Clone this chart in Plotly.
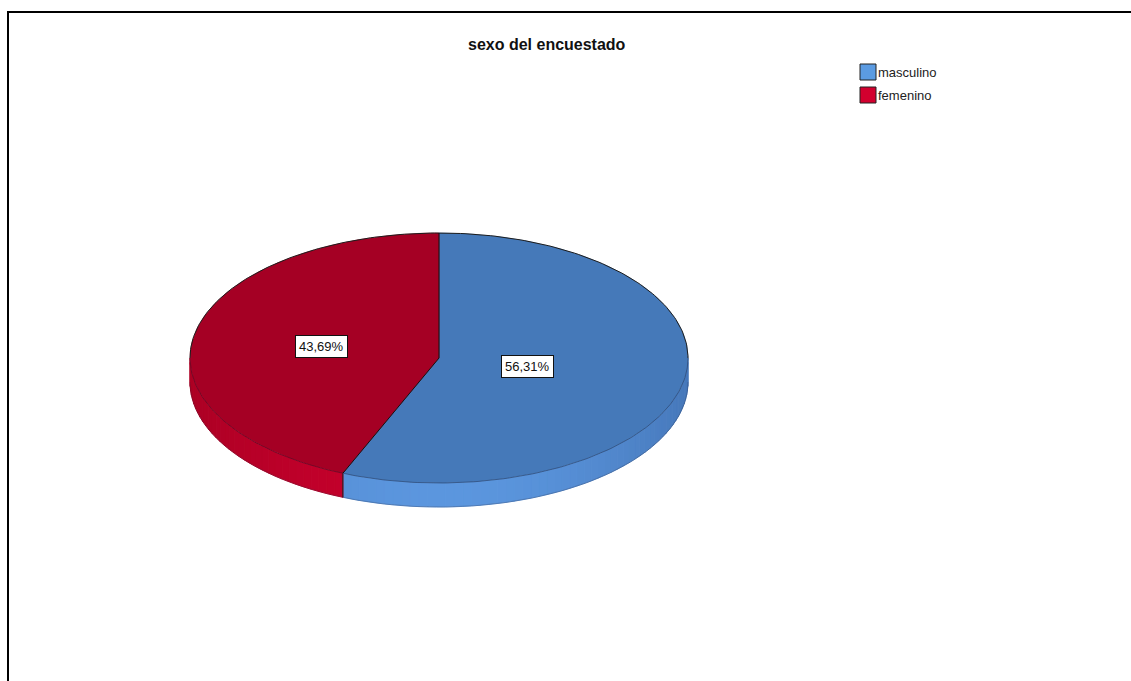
import math
import plotly.graph_objects as go

# Survey result: respondent sex
categories = ["masculino", "femenino"]
percentages = [56.31, 43.69]
value_labels = ["56,31%", "43,69%"]
title_text = "sexo del encuestado"

# Colours per category: top face, side face (front), side face (edge), legend swatch
top_colors = ["#4579b9", "#a50024"]
side_front = [(91, 150, 222), (198, 0, 44)]
side_edge = [(70, 120, 186), (172, 0, 36)]
legend_colors = ["#5b9be2", "#d2002e"]

# Canvas and pie geometry (pixel space, y grows downward)
W, H = 1131, 681
CX, CY = 439, 358
RX, RY = 249, 125
DEPTH = 24
LABEL_RADIUS = [0.363, 0.48]
FONT = "Liberation Sans, Arial, sans-serif"


def point(phi_deg, dz=0.0):
    a = math.radians(phi_deg)
    return CX + RX * math.sin(a), CY - RY * math.cos(a) + dz


def mix(c1, c2, t):
    return "rgb(%d,%d,%d)" % tuple(round(c1[i] + (c2[i] - c1[i]) * t) for i in range(3))


def arc_line(a0, a1, dz=0.0):
    n = max(4, int(abs(a1 - a0)))
    pts = [point(a0 + (a1 - a0) * k / n, dz) for k in range(n + 1)]
    return [p[0] for p in pts], [p[1] for p in pts]


fig = go.Figure()

# Slice angles, clockwise from 12 o'clock
bounds = []
start = 0.0
for p in percentages:
    end = start + p * 3.6
    bounds.append((start, end))
    start = end

# Side walls: only the front half (90..270 deg) is visible
for i, (a0, a1) in enumerate(bounds):
    s0, s1 = max(a0, 90.0), min(a1, 270.0)
    if s1 <= s0:
        continue
    n = max(2, int((s1 - s0) / 2))
    for k in range(n):
        a = s0 + (s1 - s0) * k / n
        b = s0 + (s1 - s0) * (k + 1) / n
        m = math.radians((a + b) / 2)
        t = abs(math.sin(m)) ** 2
        col = mix(side_front[i], side_edge[i], t)
        pts = [point(a), point(b), point(b, DEPTH), point(a, DEPTH)]
        xs = [p[0] for p in pts] + [pts[0][0]]
        ys = [p[1] for p in pts] + [pts[0][1]]
        fig.add_trace(go.Scatter(x=xs, y=ys, mode="lines", fill="toself",
                                 fillcolor=col, line=dict(color=col, width=1),
                                 hoverinfo="skip", showlegend=False))

# Soft lower rim of the side wall
bx, by = arc_line(90, 270, DEPTH)
fig.add_trace(go.Scatter(x=bx, y=by, mode="lines",
                         line=dict(color="rgba(40,40,60,0.25)", width=1),
                         hoverinfo="skip", showlegend=False))

# Dark edge where the two slices meet on the visible side wall
for a0, a1 in bounds:
    if 90.0 < a1 < 270.0:
        p0, p1 = point(a1), point(a1, DEPTH)
        fig.add_trace(go.Scatter(x=[p0[0], p1[0]], y=[p0[1], p1[1]], mode="lines",
                                 line=dict(color="#1e1e1e", width=1),
                                 hoverinfo="skip", showlegend=False))

# Top faces
for i, (a0, a1) in enumerate(bounds):
    ax, ay = arc_line(a0, a1)
    xs = [CX] + ax + [CX]
    ys = [CY] + ay + [CY]
    fig.add_trace(go.Scatter(x=xs, y=ys, mode="lines", fill="toself",
                             fillcolor=top_colors[i],
                             line=dict(color=top_colors[i], width=0.5),
                             hoverinfo="skip", showlegend=False))

# Rim of the top face: crisp along the back, soft along the front
rx_, ry_ = arc_line(-90, 90)
fig.add_trace(go.Scatter(x=rx_, y=ry_, mode="lines",
                         line=dict(color="#1c1c1c", width=1),
                         hoverinfo="skip", showlegend=False))
fx, fy = arc_line(90, 270)
fig.add_trace(go.Scatter(x=fx, y=fy, mode="lines",
                         line=dict(color="rgba(20,20,40,0.35)", width=1),
                         hoverinfo="skip", showlegend=False))

# Radial slice boundaries
for a0, a1 in bounds:
    p = point(a0)
    fig.add_trace(go.Scatter(x=[CX, p[0]], y=[CY, p[1]], mode="lines",
                             line=dict(color="#111", width=1),
                             hoverinfo="skip", showlegend=False))

# Value labels in white boxes
for i, (a0, a1) in enumerate(bounds):
    mid = (a0 + a1) / 2
    a = math.radians(mid)
    lx = CX + RX * LABEL_RADIUS[i] * math.sin(a)
    ly = CY - RY * LABEL_RADIUS[i] * math.cos(a)
    fig.add_annotation(x=lx, y=ly, text=value_labels[i], showarrow=False,
                       font=dict(family=FONT, size=13, color="#111"),
                       bgcolor="white", bordercolor="#111", borderwidth=1,
                       borderpad=3)

# Legend
LEG_X, LEG_Y, LEG_STEP, SW = 860, 72, 23, 16
for i, name in enumerate(categories):
    y = LEG_Y + i * LEG_STEP
    fig.add_shape(type="rect", xref="x", yref="y",
                  x0=LEG_X, x1=LEG_X + SW, y0=y - SW / 2, y1=y + SW / 2,
                  fillcolor=legend_colors[i], line=dict(color="#222", width=1))
    fig.add_annotation(x=LEG_X + SW, y=y, text=name, showarrow=False,
                       xanchor="left", yanchor="middle",
                       font=dict(family=FONT, size=13, color="#222"))

# Title
fig.add_annotation(x=547, y=44, text="<b>" + title_text + "</b>", showarrow=False,
                   xanchor="center", yanchor="middle",
                   font=dict(family=FONT, size=16, color="#111"))

# Frame
fig.add_shape(type="path", xref="x", yref="y",
              path="M 8 700 L 8 12 L 1140 12",
              line=dict(color="black", width=2))

fig.update_layout(
    width=W, height=H,
    margin=dict(l=0, r=0, t=0, b=0),
    paper_bgcolor="white", plot_bgcolor="white",
    xaxis=dict(range=[0, W], visible=False, fixedrange=True),
    yaxis=dict(range=[H, 0], visible=False, fixedrange=True),
    showlegend=False,
)

fig.write_html("out.html")
